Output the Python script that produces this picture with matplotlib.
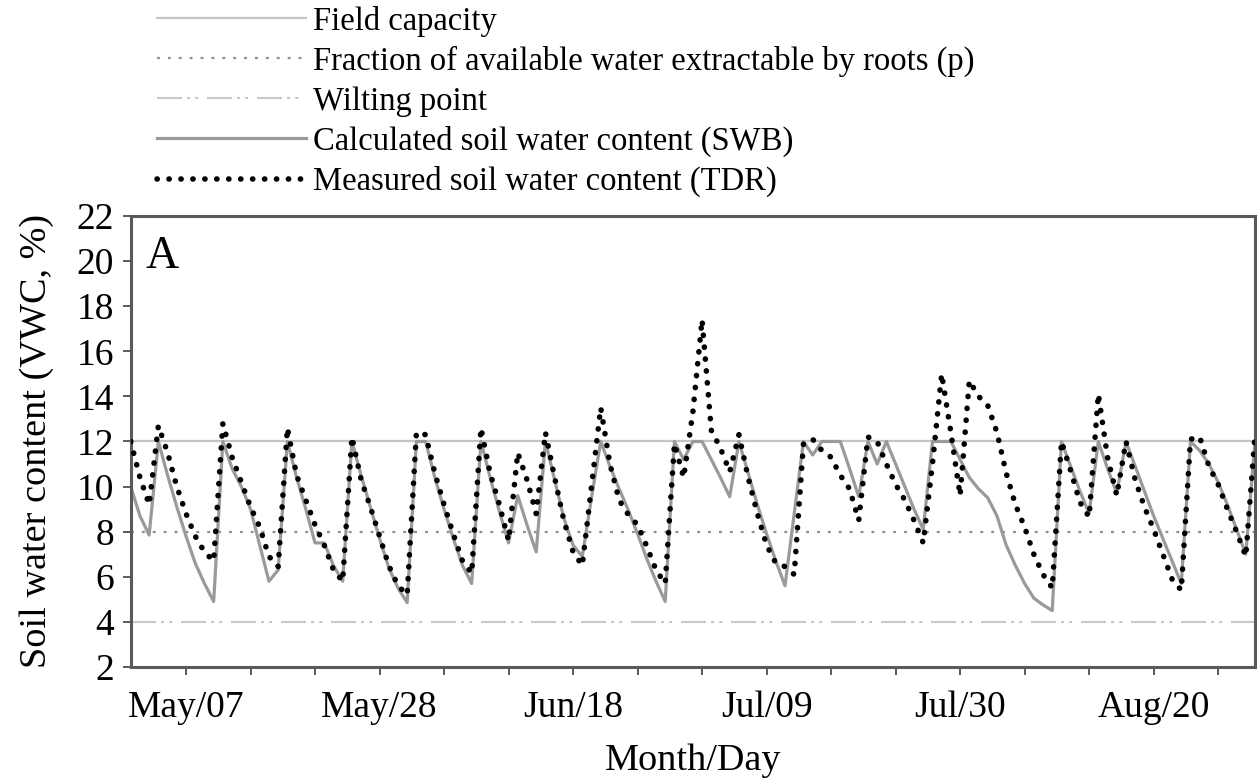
import matplotlib
matplotlib.use("Agg")
import matplotlib.pyplot as plt
import pandas as pd
from matplotlib.lines import Line2D

plt.rcParams['font.family'] = ['Liberation Serif', 'DejaVu Serif']

# ---------------- data ----------------
start_date = "2013-05-01"          # first day of the record (day 0)
days = list(range(0, 123))         # daily record, May 1 .. Aug 31

tdr = [12.0, 10.4, 9.2, 12.7, 11.5, 10.0, 8.8, 7.8, 7.1, 6.7,
       12.8, 11.3, 10.2, 9.1, 8.2, 6.9, 6.45, 12.6, 10.5, 9.4,
       8.3, 7.4, 6.3, 5.8, 12.2, 10.3, 9.1, 7.8, 6.5, 5.6,
       5.2, 12.4, 12.3, 10.6, 9.2, 7.9, 6.7, 6.15, 12.6, 10.6,
       9.2, 7.6, 11.5, 10.3, 8.8, 12.4, 10.4, 8.5, 7.1, 6.5,
       10.0, 13.5, 11.0, 9.4, 8.75, 8.3, 7.35, 6.3, 5.7, 11.9,
       10.4, 13.3, 17.4, 12.5, 11.7, 10.65, 12.3, 10.4, 8.8, 7.4,
       6.6, 6.45, 6.1, 11.9, 12.1, 11.6, 11.3, 10.5, 9.9, 8.5,
       12.2, 12.0, 11.0, 10.1, 9.4, 8.5, 7.5, 11.0, 15.0, 12.4,
       9.6, 14.7, 14.0, 13.6, 12.4, 10.6, 9.2, 8.2, 7.0, 6.1,
       5.5, 12.0, 10.7, 9.3, 8.65, 14.1, 11.3, 9.6, 12.0, 10.3,
       9.1, 8.1, 7.0, 5.9, 5.4, 12.1, 12.2, 10.9, 10.1, 9.0,
       8.0, 6.9, 12.3]

swb = [10.0, 8.7, 7.85, 12.0, 10.5, 9.1, 7.8, 6.6, 5.7, 4.9,
       12.0, 10.8, 10.0, 9.0, 7.4, 5.8, 6.3, 12.0, 10.4, 9.0,
       7.5, 7.5, 6.5, 5.8, 12.0, 10.5, 9.1, 7.7, 6.4, 5.5,
       4.85, 12.0, 12.0, 10.4, 9.0, 7.7, 6.5, 5.7, 12.0, 10.4,
       8.9, 7.5, 9.6, 8.3, 7.1, 12.0, 10.3, 8.6, 7.4, 6.9,
       9.5, 12.0, 10.9, 9.9, 8.95, 7.9, 6.8, 5.8, 4.9, 12.0,
       11.2, 12.0, 12.0, 11.2, 10.4, 9.55, 12.0, 10.6, 9.2, 7.9,
       6.7, 5.6, 8.8, 12.0, 11.4, 12.0, 12.0, 12.0, 10.8, 9.55,
       12.0, 11.0, 12.0, 11.0, 10.0, 9.0, 8.1, 12.0, 12.0, 12.0,
       11.2, 10.4, 9.9, 9.5, 8.7, 7.4, 6.5, 5.7, 5.05, 4.75,
       4.5, 12.0, 10.9, 9.8, 8.8, 12.0, 10.8, 9.7, 12.0, 10.9,
       9.8, 8.7, 7.7, 6.7, 5.7, 12.0, 11.6, 11.0, 10.2, 9.2,
       8.1, 7.0, 12.0]

field_capacity = 12.0
p_threshold = 8.0
wilting_point = 4.0

major_tick_dates = ["2013-05-07", "2013-05-28", "2013-06-18",
                    "2013-07-09", "2013-07-30", "2013-08-20"]
major_tick_labels = ["May/07", "May/28", "Jun/18", "Jul/09", "Jul/30", "Aug/20"]
y_ticks = [2, 4, 6, 8, 10, 12, 14, 16, 18, 20, 22]

legend_labels = ["Field capacity",
                 "Fraction of available water extractable by roots (p)",
                 "Wilting point",
                 "Calculated soil water content (SWB)",
                 "Measured soil water content (TDR)"]

# ---------------- plot ----------------
t0 = pd.Timestamp(start_date)
dates = [t0 + pd.Timedelta(days=d) for d in days]
x_end = t0 + pd.Timedelta(days=days[-1])

fig = plt.figure(figsize=(12.57, 7.8), dpi=100)
ax = fig.add_axes([0.104, 0.145, 0.8944, 0.578])

fc_style = dict(color="#c4c4c4", lw=1.6, ls="-")
p_style = dict(color="#8e8e8e", lw=1.6, ls=(0, (1.3, 3.6)))
wp_style = dict(color="#c8c8c8", lw=1.5, ls=(0, (12, 2.4, 1.5, 2.4, 1.5, 4.2)))
swb_style = dict(color="#9a9a9a", lw=2.3, ls="-")
tdr_style = dict(color="black", lw=4.0, ls=(0, (0.05, 2.1)),
                 dash_capstyle="round")

ax.axhline(field_capacity, **fc_style, zorder=1)
ax.axhline(p_threshold, **p_style, zorder=1)
ax.axhline(wilting_point, **wp_style, zorder=1)
ax.plot(dates, swb, **swb_style, zorder=2)
ax.plot(dates, tdr, **tdr_style, zorder=3)

ax.set_xlim(t0, x_end)
ax.set_ylim(2, 22)
ax.set_yticks(y_ticks)
ax.set_xticks(pd.to_datetime(major_tick_dates))
ax.set_xticklabels(major_tick_labels)
minor = pd.date_range(major_tick_dates[0], x_end, freq="7D")
ax.set_xticks(minor, minor=True)

for s in ax.spines.values():
    s.set_color("#5a5a5a")
    s.set_linewidth(2.2)

ax.tick_params(axis="both", which="both", direction="out", length=6,
               width=1.4, color="#5a5a5a", labelsize=27)
ax.tick_params(axis="x", which="both", pad=11)
ax.tick_params(axis="y", pad=6)

ax.set_xlabel("Month/Day", fontsize=27.5, labelpad=13)
ax.set_ylabel("Soil water content (VWC, %)", fontsize=27.5, labelpad=16)

ax.text(0.013, 0.885, "A", transform=ax.transAxes, fontsize=33,
        ha="left", va="baseline")

handles = [Line2D([], [], **fc_style),
           Line2D([], [], **p_style),
           Line2D([], [], **wp_style),
           Line2D([], [], **swb_style),
           Line2D([], [], **tdr_style)]
fig.legend(handles, legend_labels, loc="upper left",
           bbox_to_anchor=(0.1233, 0.995), frameon=False, borderpad=0.05,
           borderaxespad=0, fontsize=23.5, handlelength=4.57,
           handletextpad=0.21, labelspacing=0.28)

fig.savefig("out.png", dpi=100, facecolor="white")
